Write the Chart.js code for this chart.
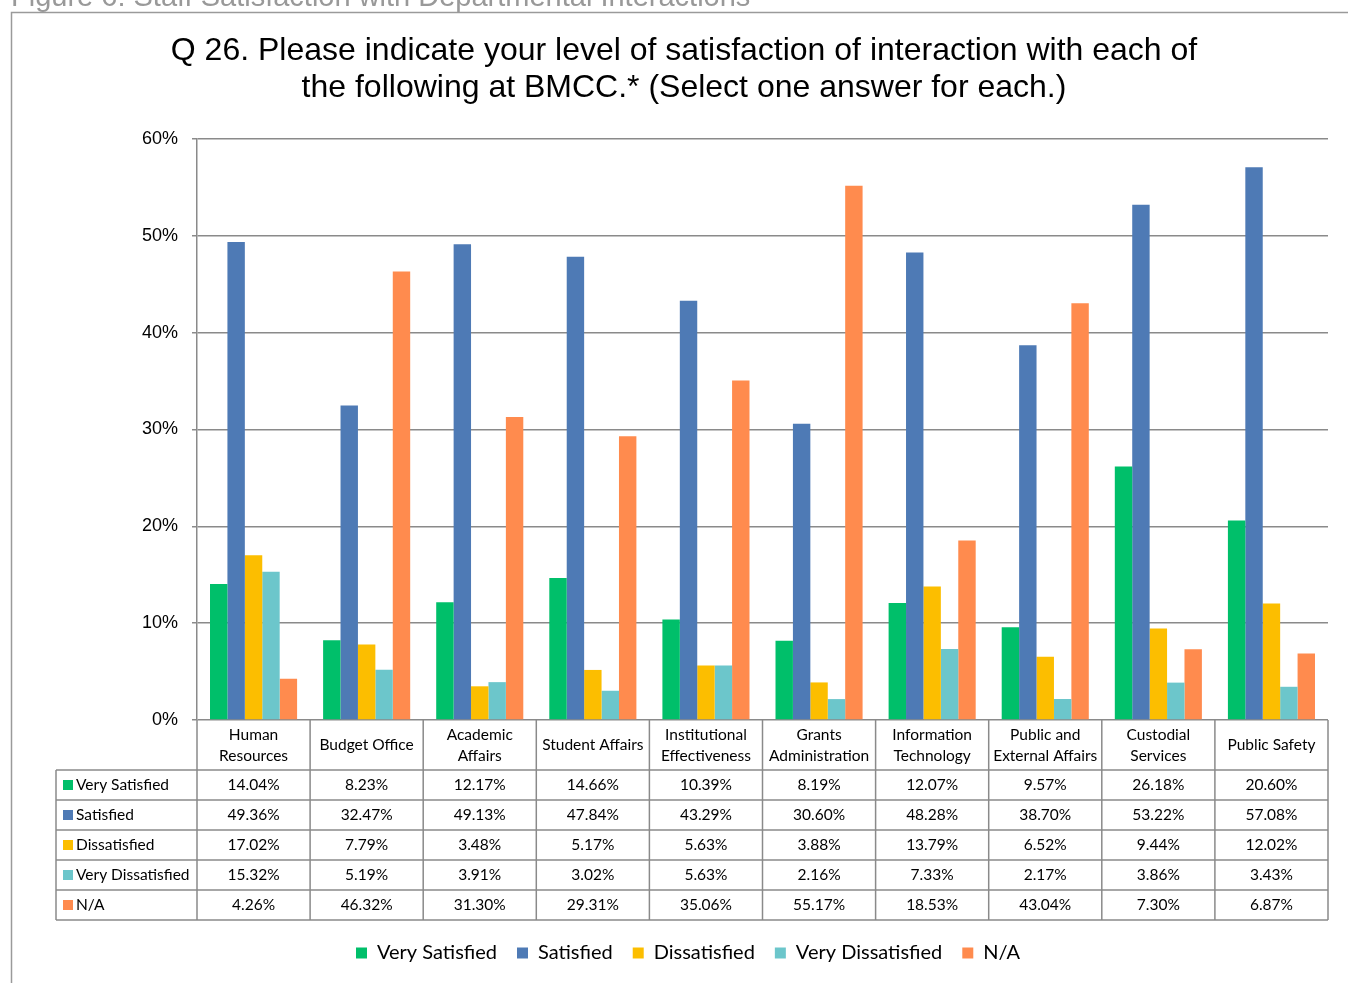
<!DOCTYPE html>
<html>
<head>
<meta charset="utf-8">
<script src="https://cdn.jsdelivr.net/npm/chart.js@4.4.1/dist/chart.umd.min.js"></script>
<style>
  html, body { margin: 0; padding: 0; background: #fff; }
  #wrap { width: 1348px; height: 983px; }
</style>
</head>
<body>
<div id="wrap"><canvas id="satChart" width="1348" height="983"></canvas></div>
<script>
"use strict";

// ---------------- DATA ----------------
const categories = [
  ["Human", "Resources"],
  ["Budget Office"],
  ["Academic", "Affairs"],
  ["Student Affairs"],
  ["Institutional", "Effectiveness"],
  ["Grants", "Administration"],
  ["Information", "Technology"],
  ["Public and", "External Affairs"],
  ["Custodial", "Services"],
  ["Public Safety"],
];

const verySatisfied = [14.04, 8.23, 12.17, 14.66, 10.39, 8.19, 12.07, 9.57, 26.18, 20.60];
const satisfied = [49.36, 32.47, 49.13, 47.84, 43.29, 30.60, 48.28, 38.70, 53.22, 57.08];
const dissatisfied = [17.02, 7.79, 3.48, 5.17, 5.63, 3.88, 13.79, 6.52, 9.44, 12.02];
const veryDissatisfied = [15.32, 5.19, 3.91, 3.02, 5.63, 2.16, 7.33, 2.17, 3.86, 3.43];
const notApplicable = [4.26, 46.32, 31.30, 29.31, 35.06, 55.17, 18.53, 43.04, 7.30, 6.87];

const seriesNames = ["Very Satisfied", "Satisfied", "Dissatisfied", "Very Dissatisfied", "N/A"];
const seriesColors = ["#00BF6A", "#4E7AB5", "#FCBE00", "#6CC6CB", "#FF8B4E"];

const yTicks = [0, 10, 20, 30, 40, 50, 60];

const titleLines = [
  "Q 26. Please indicate your level of satisfaction of interaction with each of",
  "the following at BMCC.* (Select one answer for each.)",
];
const caption = "Figure 6: Staff Satisfaction with Departmental Interactions";

const GRID = "#8a8a8a";
const TABLE_FONT = "15.5px Lato, 'Noto Sans', sans-serif";

// ---------------- FRAME + TITLE ----------------
const framePlugin = {
  id: "frame",
  afterLayout(chart) {
    // nudge the legend to sit under the middle of the frame
    if (chart.legend) {
      chart.legend.left += 24;
      chart.legend.right += 24;
    }
  },
  beforeDraw(chart) {
    const c = chart.ctx;
    c.save();
    c.fillStyle = "#fff";
    c.fillRect(0, 0, chart.width, chart.height);

    // caption mostly cut off at the top edge
    c.fillStyle = "#999";
    c.font = "29px 'Liberation Sans', Arial, sans-serif";
    c.textBaseline = "alphabetic";
    c.textAlign = "left";
    c.fillText(caption, 11, 6);

    c.strokeStyle = "#9a9a9a";
    c.lineWidth = 1.5;
    c.beginPath();
    c.moveTo(11.5, chart.height);
    c.lineTo(11.5, 12.5);
    c.lineTo(chart.width, 12.5);
    c.stroke();

    c.fillStyle = "#000";
    c.font = "32px 'Liberation Sans', Arial, sans-serif";
    c.textAlign = "center";
    c.textBaseline = "middle";
    titleLines.forEach((t, i) => c.fillText(t, 684, 51 + i * 37));
    c.restore();
  },
};

// ---------------- DATA TABLE UNDER X AXIS ----------------
const tablePlugin = {
  id: "dataTable",
  afterDraw(chart) {
    const c = chart.ctx;
    const area = chart.chartArea;
    const xs = chart.scales.x;
    const n = categories.length;
    const colW = area.width / n;
    const top = area.bottom;
    const headH = 50;
    const rowH = 30;
    const leftX = 56;
    const rows = chart.data.datasets;
    const bottom = top + headH + rows.length * rowH;

    c.save();
    c.strokeStyle = GRID;
    c.lineWidth = 1.5;
    c.beginPath();
    for (let i = 0; i <= n; i++) {
      const x = area.left + i * colW;
      c.moveTo(x, top);
      c.lineTo(x, bottom);
    }
    c.moveTo(leftX, top + headH);
    c.lineTo(leftX, bottom);
    for (let r = 0; r <= rows.length; r++) {
      const y = top + headH + r * rowH;
      c.moveTo(leftX, y);
      c.lineTo(area.right, y);
    }
    c.stroke();

    c.fillStyle = "#000";
    c.font = TABLE_FONT;
    c.textBaseline = "middle";
    c.textAlign = "center";
    categories.forEach((lines, i) => {
      const cx = xs.getPixelForValue(i);
      const cy = top + headH / 2;
      lines.forEach((ln, k) => {
        c.fillText(ln, cx, cy + (k - (lines.length - 1) / 2) * 21);
      });
    });

    rows.forEach((ds, r) => {
      const cy = top + headH + r * rowH + rowH / 2;
      c.fillStyle = ds.backgroundColor;
      c.fillRect(leftX + 7, cy - 5, 10, 10);
      c.fillStyle = "#000";
      c.textAlign = "left";
      c.fillText(ds.label, leftX + 20, cy);
      c.textAlign = "center";
      ds.data.forEach((v, i) => {
        c.fillText(v.toFixed(2) + "%", xs.getPixelForValue(i), cy);
      });
    });
    c.restore();
  },
};

// ---------------- CHART ----------------
const seriesData = [verySatisfied, satisfied, dissatisfied, veryDissatisfied, notApplicable];

new Chart(document.getElementById("satChart").getContext("2d"), {
  type: "bar",
  data: {
    labels: categories.map((c) => c.join(" ")),
    datasets: seriesNames.map((name, i) => ({
      label: name,
      data: seriesData[i],
      backgroundColor: seriesColors[i],
      borderWidth: 0,
      barPercentage: 1,
      categoryPercentage: 0.77,
    })),
  },
  options: {
    responsive: false,
    animation: false,
    layout: { padding: { top: 139, right: 20, bottom: 10, left: 0 } },
    plugins: {
      title: { display: false },
      tooltip: { enabled: false },
      legend: {
        position: "bottom",
        labels: {
          boxWidth: 11,
          boxHeight: 11,
          padding: 20,
          color: "#000",
          font: { size: 20, family: "Lato, 'Noto Sans', sans-serif" },
        },
      },
    },
    scales: {
      x: {
        grid: { display: false },
        border: { display: false },
        ticks: { display: false },
        afterFit: (s) => { s.height = 203; },
      },
      y: {
        min: 0,
        max: 60,
        afterBuildTicks: (s) => { s.ticks = yTicks.map((v) => ({ value: v })); },
        afterFit: (s) => { s.width = 197; },
        grid: { color: GRID, lineWidth: 1.5, tickLength: 5 },
        border: { color: GRID, width: 1.5 },
        ticks: {
          padding: 14,
          color: "#000",
          font: { size: 18, family: "'Liberation Sans', Arial, sans-serif" },
          callback: (v) => v + "%",
        },
      },
    },
  },
  plugins: [framePlugin, tablePlugin],
});
</script>
</body>
</html>
